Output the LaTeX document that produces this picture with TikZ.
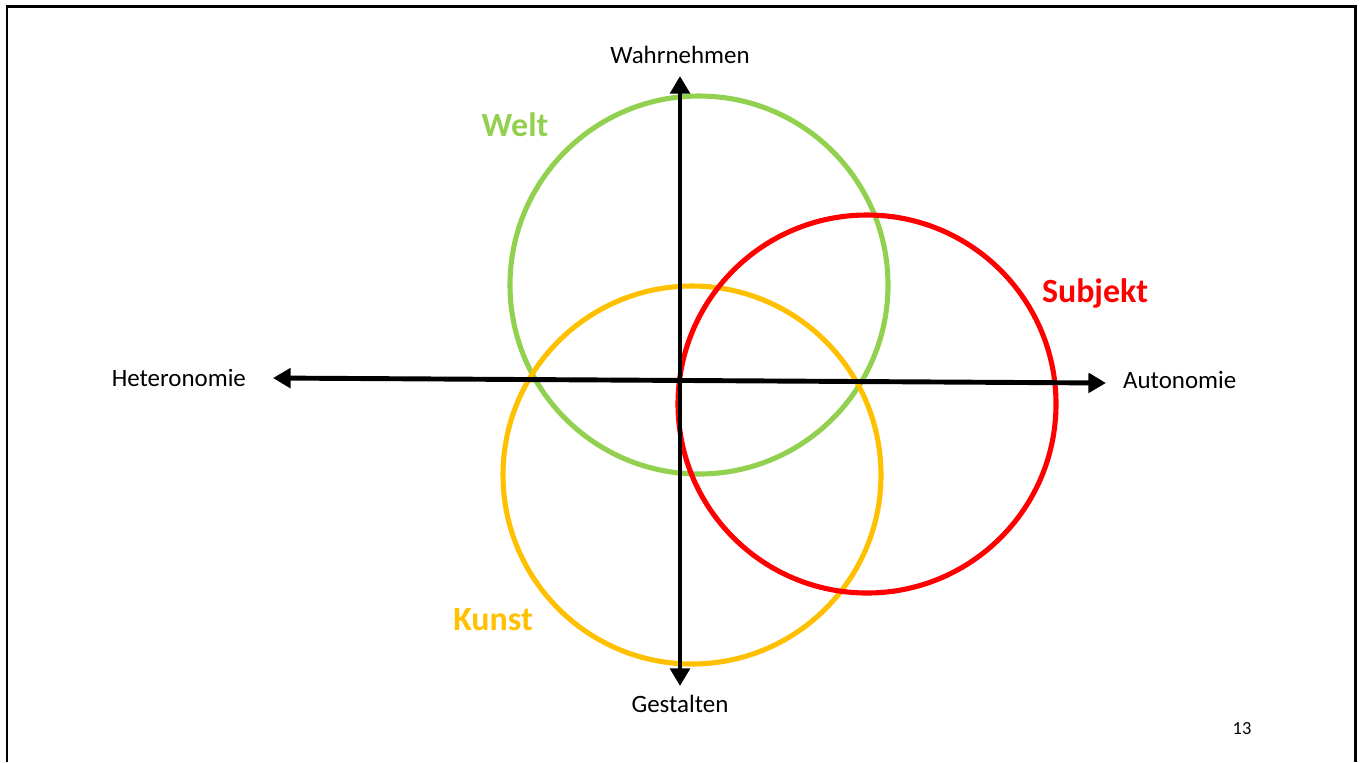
\documentclass[tikz,border=0pt]{standalone}
\usepackage{fontspec}
\setmainfont{Carlito}
\usetikzlibrary{arrows.meta, positioning}
\definecolor{weltgreen}{HTML}{92D050}
\definecolor{kunstyellow}{HTML}{FFC000}
\definecolor{subjred}{HTML}{FF0000}

\begin{document}
\begin{tikzpicture}[x=0.02cm, y=-0.02cm, >={Triangle[length=10pt, width=11pt]},
		axis/.style={line width=2.8pt, <->},
		ring/.style={line width=2.9pt},
		pole/.style={font=\fontsize{14.2}{16}\selectfont, inner sep=1pt},
		field/.style={font=\fontsize{19.3}{22}\selectfont\bfseries, inner sep=1pt}]
	\useasboundingbox (0,0) rectangle (1362,762);
	
	% Rahmen (ohne untere Kante)
	\draw [line width=1.7pt] (7,762) -- (7,6) -- (1355,6) -- (1355,762);
	
	% Achsenenden
	\coordinate (hetL) at (273,378);
	\coordinate (autR) at (1106,383);
	\coordinate (wahrT) at (680,76);
	\coordinate (gestB) at (680,686);
	
	% Kreise
	\coordinate (welt) at (699,285);
	\coordinate (kunst) at (692,475);
	\coordinate (subj) at (867,404);
	\draw [ring, weltgreen] (welt) circle (189);
	\draw [ring, kunstyellow] (kunst) circle (189);
	\draw [ring, subjred] (subj) circle (189);
	
	% Achsen
	\draw [axis] (hetL) -- (autR);
	\draw [axis] (gestB) -- (wahrT);
	
	% Pole
	\node [pole, left=0.5cm of hetL] (het) {Heteronomie};
	\node [pole, right=0.3cm of autR, yshift=0.06cm] (aut) {Autonomie};
	\node [pole, above=0.2cm of wahrT] (wahr) {Wahrnehmen};
	\node [pole, below=0.15cm of gestB] (gest) {Gestalten};
	
	% Bereiche
	\node [field, weltgreen] (weltlbl) at (515,125) {Welt};
	\node [field, subjred] (subjlbl) at (1095,293) {Subjekt};
	\node [field, kunstyellow] (kunstlbl) at (493,620) {Kunst};
	
	% Seitenzahl
	\node [font=\fontsize{10.5}{12}\selectfont] (page) at (1242,729) {13};
	
\end{tikzpicture}
\end{document}
